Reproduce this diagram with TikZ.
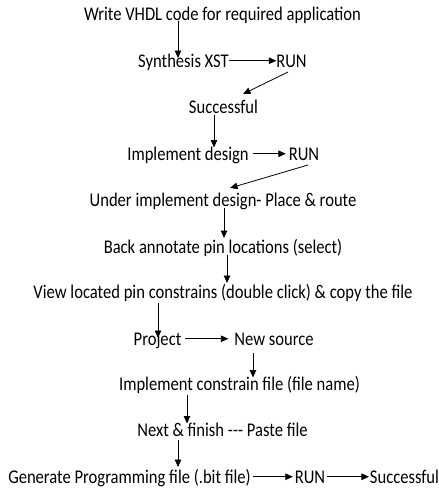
\documentclass[tikz,border=0pt]{standalone}
\usepackage{fontspec}
\setmainfont{Carlito}[FakeStretch=0.855]
\usetikzlibrary{arrows.meta}

\begin{document}
\begin{tikzpicture}[x=1pt, y=-1pt,
                stepnode/.style={inner sep=0pt, outer sep=0pt, anchor=base, text height=12.5pt, text depth=0pt, font=\fontsize{19.4}{23}\selectfont},
                arrowline/.style={-{Triangle[length=7.5pt, width=6.5pt]}, line width=0.8pt},
            ]
            \useasboundingbox (0,0) rectangle (439,488);

            % Nodes
            \node[stepnode]     (write)         at (222.5,20.5)     {Write VHDL code for required application};
            \node[stepnode]     (synth)         at (183.5,67)       {Synthesis XST};
            \node[stepnode]     (run_synth)     at (291.5,67)       {RUN};
            \node[stepnode]     (ok_synth)      at (223.5,113)      {Successful};
            \node[stepnode]     (impl)          at (188,160)        {Implement design};
            \node[stepnode]     (run_impl)      at (304,160)        {RUN};
            \node[stepnode]     (place_route)   at (223,206)        {Under implement design- Place \& route};
            \node[stepnode]     (back_pins)     at (223,253)        {Back annotate pin locations (select)};
            \node[stepnode]     (view_pins)     at (223,298)        {View located pin constrains (double click) \& copy the file};
            \node[stepnode]     (project)       at (157.5,345)      {Project};
            \node[stepnode]     (new_src)       at (274,345)        {New source};
            \node[stepnode]     (ucf)           at (239.5,390)      {Implement constrain file (file name)};
            \node[stepnode]     (next_paste)    at (222.5,436)      {Next \& finish -{}-{}- Paste file};
            \node[stepnode]     (gen_bit)       at (129.5,483)      {Generate Programming file (.bit file)};
            \node[stepnode]     (run_bit)       at (310,483)        {RUN};
            \node[stepnode]     (ok_bit)        at (404.5,483)      {Successful};

            %Lines
            \draw[arrowline] ([xshift=-44.5pt]write.south) -- ([xshift=-5.5pt, yshift=-3.5pt]synth.north);
            \draw[arrowline] (synth.east) -- (run_synth.west);
            \draw[arrowline] ([xshift=-3.5pt, yshift=-5pt]run_synth.south) -- ([xshift=19.5pt, yshift=6.5pt]ok_synth.north);
            \draw[arrowline] ([xshift=-9.5pt, yshift=-2pt]ok_synth.south) -- ([xshift=26pt]impl.north);
            \draw[arrowline, shorten <=4pt, shorten >=3pt] (impl.east) -- (run_impl.west);
            \draw[arrowline] ([xshift=4pt, yshift=-5pt]run_impl.south) -- ([xshift=7pt, yshift=5.5pt]place_route.north);
            \draw[arrowline] ([xshift=1pt, yshift=-2pt]place_route.south) -- ([xshift=1pt, yshift=2.5pt]back_pins.north);
            \draw[arrowline] ([xshift=4pt, yshift=-2pt]back_pins.south) -- ([xshift=4pt, yshift=2.5pt]view_pins.north);
            \draw[arrowline] ([xshift=-65pt, yshift=-5pt]view_pins.south) -- ([xshift=0.5pt, yshift=-5.5pt]project.north);
            \draw[arrowline, shorten <=4pt, shorten >=6pt] (project.east) -- (new_src.west);
            \draw[arrowline] ([xshift=-21pt, yshift=-8pt]new_src.south) -- ([xshift=13.5pt]ucf.north);
            \draw[arrowline] ([xshift=-52.5pt, yshift=-5pt]ucf.south) -- ([xshift=-35.5pt]next_paste.north);
            \draw[arrowline] ([xshift=-44.5pt, yshift=-4pt]next_paste.south) -- ([xshift=48.5pt, yshift=3.5pt]gen_bit.north);
            \draw[arrowline, shorten <=2pt, shorten >=2pt] (gen_bit.east) -- (run_bit.west);
            \draw[arrowline, shorten <=2pt, shorten >=1pt] (run_bit.east) -- (ok_bit.west);
        \end{tikzpicture}
\end{document}
